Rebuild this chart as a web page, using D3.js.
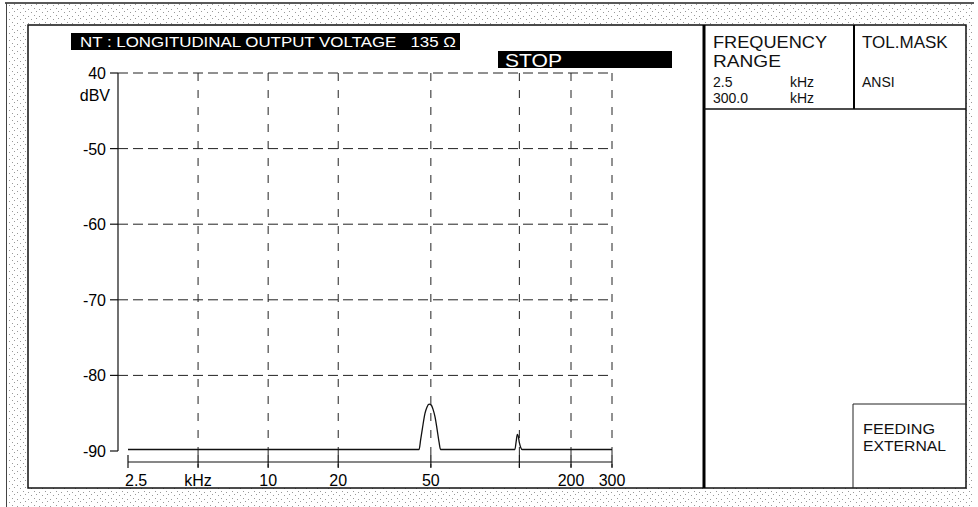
<!DOCTYPE html>
<html><head><meta charset="utf-8">
<script src="https://cdn.jsdelivr.net/npm/d3@7"></script>
<style>html,body{margin:0;padding:0;background:#fff;} svg{display:block;font-family:"Liberation Sans",Arial,sans-serif;}</style>
</head><body><svg id="c" width="978" height="507"></svg>
<script>
// ---- data ----
const yTickValues = [-40, -50, -60, -70, -80, -90];
const yTickLabels = ["40", "-50", "-60", "-70", "-80", "-90"];
const gridFreqs = [5, 10, 20, 50, 120, 200, 300];
const xTickFreqs = [2.5, 5, 10, 20, 50, 120, 200, 300];
const xLabelFreqs = [2.5, 5, 10, 20, 50, 200, 300];
const xLabelTexts = ["2.5", "kHz", "10", "20", "50", "200", "300"];
const traceFreqs = [2.5, 44.5, 45.2, 46.0, 47.2, 48.1, 49.1, 50.1, 51.1, 52.1, 53.1, 54.2, 55.0, 114.8, 116.2, 117.6, 118.6, 120.0, 121.5, 123.5, 300];
const traceLevels = [-89.8, -89.8, -88.5, -87.0, -85.0, -84.2, -83.8, -83.9, -84.5, -85.5, -87.0, -88.8, -89.8, -89.8, -88.8, -87.8, -88.0, -88.9, -89.5, -89.8, -89.8];
const titleText = "NT : LONGITUDINAL OUTPUT VOLTAGE   135 Ω";
const statusText = "STOP";
const yUnit = "dBV";
const freqRangeLines = ["FREQUENCY", "RANGE"];
const freqStart = ["2.5", "kHz"];
const freqStop = ["300.0", "kHz"];
const maskLines = ["TOL.MASK", "ANSI"];
const feedLines = ["FEEDING", "EXTERNAL"];

const svg = d3.select("#c");
const defs = svg.append("defs");
const pat = defs.append("pattern").attr("id", "dots").attr("patternUnits", "userSpaceOnUse")
  .attr("width", 11).attr("height", 7);
[[1,1],[6,2],[3,4],[9,5]].forEach(p => pat.append("rect").attr("x", p[0]).attr("y", p[1]).attr("width", 1).attr("height", 1).attr("fill", "#999"));

// outer stippled band
svg.append("rect").attr("x", 6).attr("y", 3).attr("width", 968).attr("height", 504).attr("fill", "url(#dots)");
svg.append("line").attr("x1", 5).attr("x2", 974).attr("y1", 3).attr("y2", 3).attr("stroke", "#222").attr("stroke-width", 1.5);
svg.append("line").attr("x1", 6.5).attr("x2", 6.5).attr("y1", 3).attr("y2", 507).attr("stroke", "#444").attr("stroke-width", 1);
// inner panel
svg.append("rect").attr("x", 28).attr("y", 25).attr("width", 938).attr("height", 463)
  .attr("fill", "#fff").attr("stroke", "#111").attr("stroke-width", 1.5);

// ---- scales ----
const x = d3.scaleLog().domain([2.5, 300]).range([128, 612]);
const y = d3.scaleLinear().domain([-90, -40]).range([451, 73]);
const axisY = 462;

const g = svg.append("g");

// horizontal grid
g.selectAll(".hg").data(yTickValues.filter(v => v > -90)).join("line")
  .attr("x1", x(2.5) - 10).attr("x2", x(300)).attr("y1", d => y(d)).attr("y2", d => y(d))
  .attr("stroke", "#222").attr("stroke-width", 1).attr("stroke-dasharray", "10,5");
// vertical grid
g.selectAll(".vg").data(gridFreqs).join("line")
  .attr("x1", d => x(d)).attr("x2", d => x(d)).attr("y1", y(-40)).attr("y2", axisY + 5)
  .attr("stroke", "#222").attr("stroke-width", 1).attr("stroke-dasharray", "8,9");

// y axis
const yAxisX = x(2.5) - 10;
g.append("line").attr("x1", yAxisX).attr("x2", yAxisX).attr("y1", y(-40)).attr("y2", y(-90))
  .attr("stroke", "#111").attr("stroke-width", 1.2);
g.selectAll(".yt").data(yTickValues).join("line")
  .attr("x1", yAxisX - 8).attr("x2", yAxisX).attr("y1", d => y(d)).attr("y2", d => y(d))
  .attr("stroke", "#111").attr("stroke-width", 1.2);
g.selectAll(".yl").data(yTickValues).join("text")
  .attr("x", yAxisX - 12).attr("y", d => y(d) + 6).attr("text-anchor", "end")
  .attr("font-size", 16).text((d, i) => yTickLabels[i]);
g.append("text").attr("x", yAxisX - 8).attr("y", 101).attr("text-anchor", "end").attr("font-size", 16).text(yUnit);

// x axis
g.append("line").attr("x1", x(2.5)).attr("x2", x(300)).attr("y1", axisY).attr("y2", axisY)
  .attr("stroke", "#111").attr("stroke-width", 1.2);
g.selectAll(".xt").data(xTickFreqs).join("line")
  .attr("x1", d => x(d)).attr("x2", d => x(d)).attr("y1", axisY - 7).attr("y2", axisY + 6)
  .attr("stroke", "#111").attr("stroke-width", 1.2);
g.selectAll(".xl").data(xLabelFreqs).join("text")
  .attr("x", (d, i) => i === 0 ? x(d) - 3 : x(d))
  .attr("text-anchor", (d, i) => i === 0 ? "start" : "middle")
  .attr("y", 486).attr("font-size", 16).text((d, i) => xLabelTexts[i]);

// trace
const pts = traceFreqs.map((f, i) => [f, traceLevels[i]]);
g.append("path").datum(pts)
  .attr("d", d3.line().x(d => x(d[0])).y(d => y(d[1])).curve(d3.curveMonotoneX))
  .attr("fill", "none").attr("stroke", "#111").attr("stroke-width", 1.3);

// title box
svg.append("rect").attr("x", 71).attr("y", 33).attr("width", 389).attr("height", 17).attr("fill", "#000");
svg.append("text").attr("x", 80).attr("y", 47).attr("font-size", 15).attr("fill", "#fff")
  .style("white-space", "pre").attr("textLength", 376).attr("lengthAdjust", "spacingAndGlyphs").text(titleText);
// STOP box
svg.append("rect").attr("x", 498).attr("y", 51).attr("width", 174).attr("height", 17).attr("fill", "#000");
svg.append("text").attr("x", 505).attr("y", 67).attr("font-size", 18).attr("fill", "#fff")
  .attr("textLength", 57).attr("lengthAdjust", "spacingAndGlyphs").text(statusText);

// right panel
svg.append("line").attr("x1", 704).attr("x2", 704).attr("y1", 25).attr("y2", 488).attr("stroke", "#000").attr("stroke-width", 3);
svg.append("line").attr("x1", 854).attr("x2", 854).attr("y1", 25).attr("y2", 109).attr("stroke", "#000").attr("stroke-width", 2);
svg.append("line").attr("x1", 704).attr("x2", 966).attr("y1", 109).attr("y2", 109).attr("stroke", "#111").attr("stroke-width", 1.5);
svg.append("line").attr("x1", 853).attr("x2", 966).attr("y1", 404).attr("y2", 404).attr("stroke", "#222").attr("stroke-width", 1);
svg.append("line").attr("x1", 853).attr("x2", 853).attr("y1", 404).attr("y2", 488).attr("stroke", "#222").attr("stroke-width", 1);

const rp = svg.append("g").attr("fill", "#111");
rp.append("text").attr("x", 713).attr("y", 48).attr("font-size", 16)
  .attr("textLength", 114).attr("lengthAdjust", "spacingAndGlyphs").text(freqRangeLines[0]);
rp.append("text").attr("x", 713).attr("y", 67).attr("font-size", 16)
  .attr("textLength", 68).attr("lengthAdjust", "spacingAndGlyphs").text(freqRangeLines[1]);
rp.append("text").attr("x", 713).attr("y", 87).attr("font-size", 14).text(freqStart[0]);
rp.append("text").attr("x", 790).attr("y", 87).attr("font-size", 14).text(freqStart[1]);
rp.append("text").attr("x", 713).attr("y", 103).attr("font-size", 14).text(freqStop[0]);
rp.append("text").attr("x", 790).attr("y", 103).attr("font-size", 14).text(freqStop[1]);
rp.append("text").attr("x", 862).attr("y", 48).attr("font-size", 17).text(maskLines[0]);
rp.append("text").attr("x", 862).attr("y", 87).attr("font-size", 14).text(maskLines[1]);
rp.append("text").attr("x", 863).attr("y", 434).attr("font-size", 14)
  .attr("textLength", 72).attr("lengthAdjust", "spacingAndGlyphs").text(feedLines[0]);
rp.append("text").attr("x", 863).attr("y", 451).attr("font-size", 14)
  .attr("textLength", 83).attr("lengthAdjust", "spacingAndGlyphs").text(feedLines[1]);
</script></body></html>
